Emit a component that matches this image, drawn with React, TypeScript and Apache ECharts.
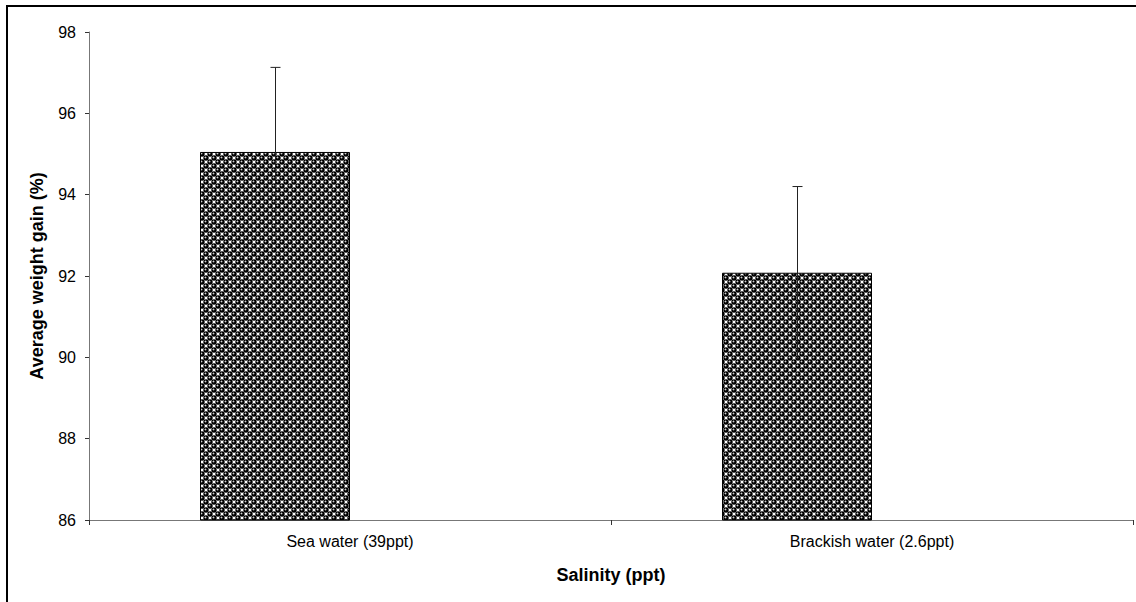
import React, { useEffect, useRef } from 'react';
import * as echarts from 'echarts';

const categories = ['Sea water (39ppt)', 'Brackish water (2.6ppt)'];
const meanGain = [95.05, 92.08];
const errorSize = [2.08, 2.12];
const yMin = 86;
const yMax = 98;
const yInterval = 2;

const BAR_WIDTH = 150;

function makeTile(): string {
  const c = document.createElement('canvas');
  c.width = 8;
  c.height = 8;
  const ctx = c.getContext('2d');
  if (!ctx) return '';
  ctx.fillStyle = '#ffffff';
  ctx.fillRect(0, 0, 8, 8);
  const base = [
    [2, 2],
    [6, 6],
  ];
  for (const [bx, by] of base) {
    for (const dx of [-8, 0, 8]) {
      for (const dy of [-8, 0, 8]) {
        const cx = bx + dx;
        const cy = by + dy;
        const g = ctx.createRadialGradient(cx - 0.8, cy - 0.8, 0.05, cx, cy, 2.7);
        g.addColorStop(0, '#ffffff');
        g.addColorStop(0.22, '#9a9a9a');
        g.addColorStop(0.5, '#000000');
        g.addColorStop(1, '#000000');
        ctx.fillStyle = g;
        ctx.beginPath();
        ctx.arc(cx, cy, 2.7, 0, Math.PI * 2);
        ctx.fill();
      }
    }
  }
  return c.toDataURL();
}

export default function App() {
  const ref = useRef<HTMLDivElement>(null);
  useEffect(() => {
    if (!ref.current) return;
    const chart = echarts.init(ref.current, undefined, { renderer: 'svg' });
    const tile = makeTile();
    const errData = categories.map((_, i) => [i, meanGain[i] - errorSize[i], meanGain[i] + errorSize[i]]);
    chart.setOption({
      animation: false,
      backgroundColor: '#ffffff',
      textStyle: { fontFamily: 'Liberation Sans, Arial, sans-serif' },
      grid: { left: 89, right: 3, top: 32, bottom: 82, containLabel: false },
      graphic: [
        {
          type: 'rect',
          shape: { x: 7, y: 6, width: 1300, height: 800 },
          style: { fill: 'none', stroke: '#000000', lineWidth: 2 },
          silent: true,
          z: 100,
        },
      ],
      xAxis: {
        type: 'category',
        data: categories,
        name: 'Salinity (ppt)',
        nameLocation: 'middle',
        nameGap: 46,
        nameTextStyle: { fontSize: 18, fontWeight: 'bold', color: '#000' },
        axisLine: { lineStyle: { color: '#777', width: 1 } },
        axisTick: { show: true, length: 5, lineStyle: { color: '#333' }, alignWithLabel: false },
        axisLabel: { fontSize: 16, color: '#000', margin: 13 },
        splitLine: { show: false },
      },
      yAxis: {
        type: 'value',
        min: yMin,
        max: yMax,
        interval: yInterval,
        name: 'Average weight gain (%)',
        nameLocation: 'middle',
        nameGap: 43,
        nameRotate: 90,
        nameTextStyle: { fontSize: 18, fontWeight: 'bold', color: '#000' },
        axisLine: { show: true, lineStyle: { color: '#777', width: 1 } },
        axisTick: { show: true, length: 4, lineStyle: { color: '#333' } },
        axisLabel: { fontSize: 16, color: '#000', margin: 13 },
        splitLine: { show: false },
      },
      series: [
        {
          type: 'bar',
          data: meanGain,
          barWidth: BAR_WIDTH,
          barGap: '0%',
          itemStyle: {
            color: { image: tile, repeat: 'repeat' },
            borderColor: '#000',
            borderWidth: 1,
          },
        },
        {
          type: 'bar',
          data: categories.map(() => '-'),
          barWidth: BAR_WIDTH,
          barGap: '0%',
        },
        {
          type: 'custom',
          data: errData,
          z: 10,
          renderItem: (params: any, api: any) => {
            const i = api.value(0);
            const lo = api.coord([i, api.value(1)]);
            const hi = api.coord([i, api.value(2)]);
            const x = Math.round(lo[0] - BAR_WIDTH / 2) + 0.5;
            const capHalf = 5;
            const style = { stroke: '#222', lineWidth: 1 };
            return {
              type: 'group',
              children: [
                { type: 'line', shape: { x1: x, y1: lo[1], x2: x, y2: hi[1] }, style },
                { type: 'line', shape: { x1: x - capHalf, y1: hi[1], x2: x + capHalf, y2: hi[1] }, style },
              ],
            };
          },
        },
      ],
    });
    return () => chart.dispose();
  }, []);
  return (
    <div
      ref={ref}
      style={{ position: 'fixed', left: 0, top: 0, width: 1136, height: 602, background: '#fff' }}
    />
  );
}
